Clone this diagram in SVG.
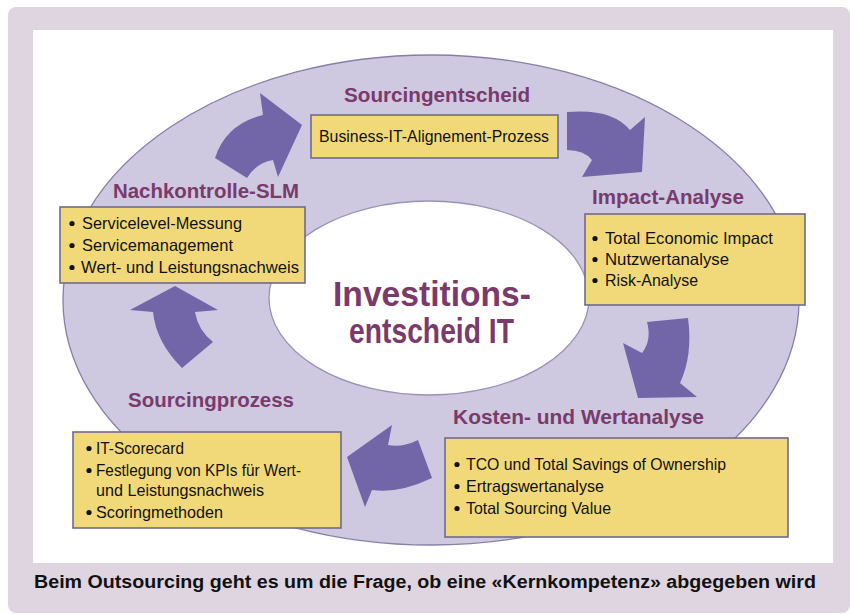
<svg xmlns="http://www.w3.org/2000/svg" width="850" height="615" viewBox="0 0 850 615">
  <style>
    .title { font-family: "Liberation Sans", Arial, sans-serif; font-weight: bold; font-size: 20.5px; fill: #7a3a6c; }
    .item { font-family: "Liberation Sans", Arial, sans-serif; font-size: 16.5px; fill: #111111; }
    .box { fill: #f1d97a; stroke: #6f6b92; stroke-width: 1.6; }
    .bullet { fill: #111111; }
    .arrow { fill: #7266a8; }
    .center { font-family: "Liberation Sans", Arial, sans-serif; font-weight: bold; font-size: 35px; fill: #7a3a6c; }
    .caption { font-family: "Liberation Sans", Arial, sans-serif; font-weight: bold; font-size: 18px; fill: #111111; }
  </style>

  <!-- frame -->
  <rect x="8" y="7" width="842" height="606" rx="8" fill="#ded5e0"/>
  <rect x="33" y="30" width="800" height="533" fill="#ffffff"/>

  <!-- cycle ring -->
  <g id="ring">
    <ellipse cx="431" cy="300" rx="368" ry="245" fill="#cec8e0" stroke="#8680a8" stroke-width="1.3"/>
    <ellipse cx="429" cy="298" rx="160" ry="97" fill="#ffffff" stroke="#9a93b8" stroke-width="1.3"/>
  </g>

  <!-- curved arrows between the phases -->
  <g id="connectors">
    <path class="arrow" d="M215,158 Q226,124 263,115 L260,93 L302,125 L278,177 L273,160 Q256,163 247,178 Z"/>
    <path class="arrow" d="M567,112 Q612,108 630,130 L645,117 L642,172 L582,177 L592,160 Q584,150 567,150 Z"/>
    <path class="arrow" d="M647,322 L688,318 Q693,355 680,383 L697,397 L638,398 L623,343 L642,353 Q652,340 647,322 Z"/>
    <path class="arrow" d="M347,457 L392,425 L388,445 Q402,448 418,440 L432,478 Q398,494 372,490 L365,507 Z"/>
    <path class="arrow" d="M175,286 L218,310 L195,312 Q198,330 213,342 L182,368 Q156,342 153,312 L130,310 Z"/>
  </g>

  <g id="node-sourcingentscheid">
    <text class="title" x="344" y="102" textLength="186" lengthAdjust="spacingAndGlyphs">Sourcingentscheid</text>
    <rect class="box" x="311" y="115" width="247" height="43"/>
    <text class="item" x="319" y="142" textLength="230" lengthAdjust="spacingAndGlyphs">Business-IT-Alignement-Prozess</text>
  </g>

  <g id="node-impact">
    <text class="title" x="592" y="204" textLength="152" lengthAdjust="spacingAndGlyphs">Impact-Analyse</text>
    <rect class="box" x="585" y="214" width="220" height="91"/>
    <circle class="bullet" cx="595" cy="238.5" r="2.6"/>
    <circle class="bullet" cx="595" cy="259.5" r="2.6"/>
    <circle class="bullet" cx="595" cy="280.5" r="2.6"/>
    <text class="item" x="605" y="244" textLength="168" lengthAdjust="spacingAndGlyphs">Total Economic Impact</text>
    <text class="item" x="605" y="265" textLength="124" lengthAdjust="spacingAndGlyphs">Nutzwertanalyse</text>
    <text class="item" x="605" y="286" textLength="93" lengthAdjust="spacingAndGlyphs">Risk-Analyse</text>
  </g>

  <g id="node-kosten">
    <text class="title" x="453" y="424" textLength="251" lengthAdjust="spacingAndGlyphs">Kosten- und Wertanalyse</text>
    <rect class="box" x="445" y="438" width="343" height="99"/>
    <circle class="bullet" cx="457" cy="464.5" r="2.6"/>
    <circle class="bullet" cx="457" cy="486.5" r="2.6"/>
    <circle class="bullet" cx="457" cy="508.5" r="2.6"/>
    <text class="item" x="466" y="470" textLength="260" lengthAdjust="spacingAndGlyphs">TCO und Total Savings of Ownership</text>
    <text class="item" x="466" y="492" textLength="138" lengthAdjust="spacingAndGlyphs">Ertragswertanalyse</text>
    <text class="item" x="466" y="514" textLength="145" lengthAdjust="spacingAndGlyphs">Total Sourcing Value</text>
  </g>

  <g id="node-sourcingprozess">
    <text class="title" x="128" y="407" textLength="166" lengthAdjust="spacingAndGlyphs">Sourcingprozess</text>
    <rect class="box" x="73" y="432" width="268" height="96"/>
    <circle class="bullet" cx="89" cy="448.5" r="2.6"/>
    <circle class="bullet" cx="89" cy="470.5" r="2.6"/>
    <circle class="bullet" cx="89" cy="512.5" r="2.6"/>
    <text class="item" x="96" y="454" textLength="88" lengthAdjust="spacingAndGlyphs">IT-Scorecard</text>
    <text class="item" x="96" y="476" textLength="205" lengthAdjust="spacingAndGlyphs">Festlegung von KPIs für Wert-</text>
    <text class="item" x="96" y="496" textLength="168" lengthAdjust="spacingAndGlyphs">und Leistungsnachweis</text>
    <text class="item" x="96" y="518" textLength="127" lengthAdjust="spacingAndGlyphs">Scoringmethoden</text>
  </g>

  <g id="node-nachkontrolle">
    <text class="title" x="113" y="198" textLength="186" lengthAdjust="spacingAndGlyphs">Nachkontrolle-SLM</text>
    <rect class="box" x="60" y="207" width="245" height="76"/>
    <circle class="bullet" cx="72" cy="223.5" r="2.6"/>
    <circle class="bullet" cx="72" cy="245.5" r="2.6"/>
    <circle class="bullet" cx="72" cy="267.5" r="2.6"/>
    <text class="item" x="82" y="229" textLength="160" lengthAdjust="spacingAndGlyphs">Servicelevel-Messung</text>
    <text class="item" x="82" y="251" textLength="151" lengthAdjust="spacingAndGlyphs">Servicemanagement</text>
    <text class="item" x="81" y="273" textLength="218" lengthAdjust="spacingAndGlyphs">Wert- und Leistungsnachweis</text>
  </g>

  <g id="node-center">
    <text class="center" x="333" y="306" textLength="198" lengthAdjust="spacingAndGlyphs">Investitions-</text>
    <text class="center" x="349" y="343" textLength="165" lengthAdjust="spacingAndGlyphs">entscheid IT</text>
  </g>

  <text class="caption" x="34" y="588" textLength="782" lengthAdjust="spacingAndGlyphs">Beim Outsourcing geht es um die Frage, ob eine «Kernkompetenz» abgegeben wird</text>
</svg>
